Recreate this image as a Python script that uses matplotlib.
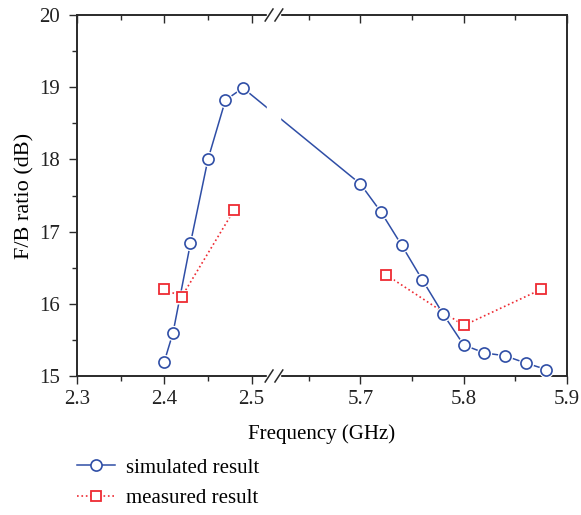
import matplotlib
matplotlib.use('Agg')
import matplotlib.pyplot as plt
import numpy as np

# simulated F/B ratio (dB)
sim_freq = [2.40, 2.41, 2.43, 2.45, 2.47, 2.49,
            5.70, 5.72, 5.74, 5.76, 5.78, 5.80, 5.82, 5.84, 5.86, 5.88]
sim_fb = [15.2, 15.6, 16.84, 18.0, 18.82, 18.99,
          17.66, 17.27, 16.81, 16.33, 15.86, 15.43, 15.32, 15.28, 15.18, 15.09]

# measured F/B ratio (dB), two bands
meas_freq_lo = [2.40, 2.42, 2.48]
meas_fb_lo = [16.2, 16.1, 17.3]
meas_freq_hi = [5.725, 5.80, 5.875]
meas_fb_hi = [16.4, 15.7, 16.2]

major_ticks = [2.3, 2.4, 2.5, 5.7, 5.8, 5.9]
minor_ticks = [2.35, 2.45, 5.65, 5.75, 5.85]

# broken x axis: two linear pieces joined at the break
BRK_L, BRK_R = 2.525, 5.6163
K_L, K_R = 873.0, 1033.0
U_B = (BRK_L - 2.3) * K_L


def fwd(f):
    f = np.asarray(f, dtype=float)
    mid = U_B + (f - BRK_L) / (BRK_R - BRK_L) * 0.5
    return np.where(f <= BRK_L, (f - 2.3) * K_L,
                    np.where(f >= BRK_R, U_B + 0.5 + (f - BRK_R) * K_R, mid))


def inv(u):
    u = np.asarray(u, dtype=float)
    mid = BRK_L + (u - U_B) / 0.5 * (BRK_R - BRK_L)
    return np.where(u <= U_B, 2.3 + u / K_L,
                    np.where(u >= U_B + 0.5, BRK_R + (u - U_B - 0.5) / K_R, mid))


plt.rcParams['font.family'] = ['Liberation Serif', 'DejaVu Serif']
plt.rcParams['font.size'] = 15

BLUE = '#2f4ea6'
RED = '#ee2b33'
INK = '#2a2a2a'

fig = plt.figure(figsize=(5.81, 5.15), dpi=100)
ax = fig.add_axes([77 / 581, 1 - 376 / 515, 490 / 581, 361 / 515])
ax.set_xscale('function', functions=(fwd, inv))
ax.set_xlim(2.3, 5.9)
ax.set_ylim(15, 20)

# simulated: line, white halo under markers, then open circles
ax.plot(sim_freq, sim_fb, '-', color=BLUE, lw=1.1, zorder=2)
ax.plot(sim_freq, sim_fb, 'o', ms=11, mfc='white', mec='none', zorder=3)
ax.plot(sim_freq, sim_fb, 'o', ms=8, mfc='white', mec=BLUE, mew=1.2, zorder=4)

for fx, fy in [(meas_freq_lo, meas_fb_lo), (meas_freq_hi, meas_fb_hi)]:
    ax.plot(fx, fy, ':', color=RED, lw=1.2, zorder=2)
    ax.plot(fx, fy, 's', ms=10, mfc='white', mec='none', zorder=3)
    ax.plot(fx, fy, 's', ms=7.5, mfc='white', mec=RED, mew=1.3, zorder=4)

ax.set_xticks(major_ticks)
ax.set_xticklabels([f'{t:.1f}' for t in major_ticks])
ax.set_xticks(minor_ticks, minor=True)
ax.set_yticks(np.arange(15, 21, 1))
ax.set_yticks(np.arange(15.5, 20, 1), minor=True)
ax.tick_params(which='both', direction='out', color=INK, width=1, labelcolor='#222222')
ax.tick_params(which='major', length=6, pad=4)
ax.tick_params(which='minor', length=3.5)
ax.tick_params(axis='y', which='major', length=5.5, pad=7)
for s in ax.spines.values():
    s.set_color(INK)
    s.set_linewidth(1.4)

# top ticks point inward
top = ax.twiny()
top.set_xscale('function', functions=(fwd, inv))
top.set_xlim(2.3, 5.9)
top.set_xticks(major_ticks)
top.set_xticks(minor_ticks, minor=True)
top.tick_params(which='both', direction='in', color=INK, width=1, labeltop=False)
top.tick_params(which='major', length=5.5)
top.tick_params(which='minor', length=3.5)
for s in top.spines.values():
    s.set_visible(False)

ax.set_xlabel('Frequency (GHz)', labelpad=11)
ax.set_ylabel('F/B ratio (dB)', labelpad=3, fontsize=16)

# break marks
x0 = (267 - 77) / 490
x1 = (280 - 77) / 490
ax.fill([x0, x1, x1, x0], [-0.01, -0.01, 1.01, 1.01], color='white',
        transform=ax.transAxes, clip_on=False, zorder=10)
dy = 6 / 361
for yb in (0, 1):
    for xs in (0.384, 0.404):
        ax.plot([xs, xs + 0.016], [yb - dy, yb + dy], color=INK, lw=1.1,
                transform=ax.transAxes, clip_on=False, zorder=11)

h1, = ax.plot([], [], '-o', color=BLUE, lw=1.1, ms=8, mfc='white', mec=BLUE, mew=1.2)
h2, = ax.plot([], [], ':s', color=RED, lw=1.2, ms=7.5, mfc='white', mec=RED, mew=1.3)
fig.legend([h1, h2], ['simulated result', 'measured result'],
           loc='upper left', bbox_to_anchor=(77 / 581, 1 - 458 / 515),
           frameon=False, borderpad=0, borderaxespad=0,
           handlelength=1.8, handletextpad=0.55, labelspacing=0.52, fontsize=15)

fig.savefig('out.png', dpi=100)
